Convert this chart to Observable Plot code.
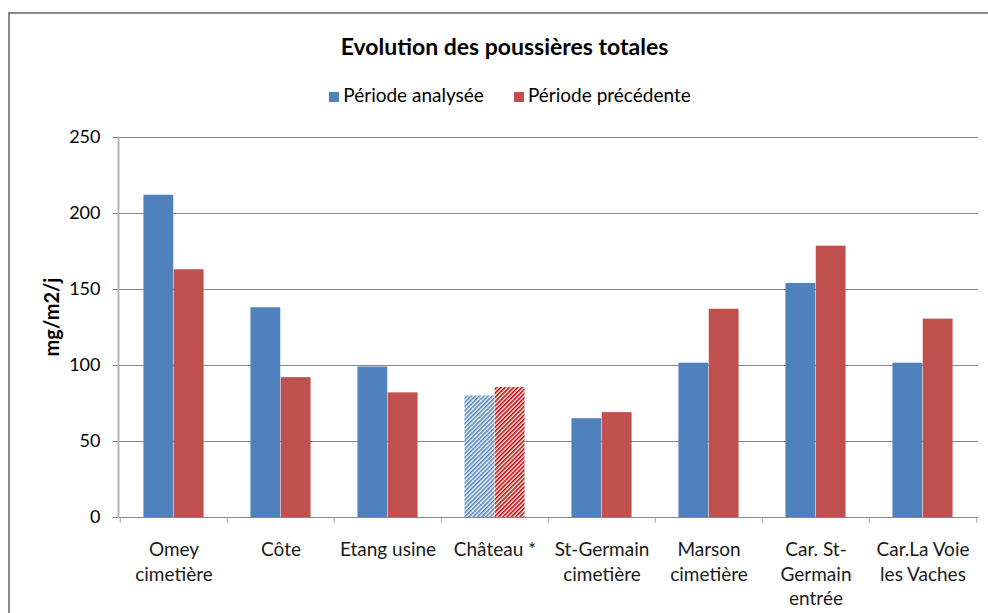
<!DOCTYPE html>
<html>
<head>
<meta charset="utf-8">
<script src="https://cdn.jsdelivr.net/npm/d3@7"></script>
<script src="https://cdn.jsdelivr.net/npm/@observablehq/plot@0.6"></script>
<style>
  html, body { margin: 0; padding: 0; background: #fff; }
  #page { position: relative; width: 988px; height: 613px; overflow: hidden; font-family: Lato, "Noto Sans", sans-serif; }
  #frame { position: absolute; left: 8px; top: 12px; right: -4px; bottom: -4px; border-left: 2px solid #878787; border-top: 2px solid #878787; z-index: 5; pointer-events: none; }
  #title { position: absolute; left: 0; top: 32px; width: 1009px; text-align: center; font-weight: bold; font-size: 23px; line-height: 28px; color: #000; }
  #legend { position: absolute; left: 0; top: 83px; width: 1020px; display: flex; justify-content: center; align-items: baseline; font-size: 19px; line-height: 23px; color: #000; }
  .sw { display: inline-block; width: 10px; height: 10px; margin-right: 4px; }
  .item { display: inline-flex; align-items: baseline; }
  #chart { position: absolute; left: 0; top: 115px; }
  #ylabel { position: absolute; left: 51px; top: 317px; transform: translate(-50%, -50%) rotate(-90deg); font-weight: bold; font-size: 20px; white-space: nowrap; color: #000; }
</style>
</head>
<body>
<div id="page">
  <div id="frame"></div>
  <div id="title"></div>
  <div id="legend"></div>
  <div id="chart"></div>
  <div id="ylabel"></div>
</div>
<script>
// ---- data ----
const titleText = "Evolution des poussières totales";
const yLabel = "mg/m2/j";
const seriesNames = ["Période analysée", "Période précédente"];
const seriesColors = ["#4F81BD", "#C0504D"];
const hatchColors = ["#4F81BD", "#C00000"];
const categories = [
  "Omey\ncimetière",
  "Côte",
  "Etang usine",
  "Château *",
  "St-Germain\ncimetière",
  "Marson\ncimetière",
  "Car. St-\nGermain\nentrée",
  "Car.La Voie\nles Vaches"
];
const analysee   = [212, 138, 99, 80, 65, 101.5, 154, 101.5];
const precedente = [163, 92, 82, 85.5, 69, 137, 178.5, 130.5];
const hatchedSite = "Château *";
const yTicks = [0, 50, 100, 150, 200, 250];

// ---- text ----
document.getElementById("title").textContent = titleText;
document.getElementById("ylabel").textContent = yLabel;
const legend = document.getElementById("legend");
seriesNames.forEach((name, i) => {
  const item = document.createElement("span");
  item.className = "item";
  item.style.marginRight = i === 0 ? "30px" : "0";
  const sw = document.createElement("span");
  sw.className = "sw";
  sw.style.background = seriesColors[i];
  const t = document.createElement("span");
  t.textContent = name;
  item.appendChild(sw); item.appendChild(t);
  legend.appendChild(item);
});

// ---- table ----
const rows = categories.map((c, i) => ({site: c, a: analysee[i], p: precedente[i], hatched: c === hatchedSite}));
const plain = rows.filter(d => !d.hatched);
const hatched = rows.filter(d => d.hatched);

const W = 988, H = 498, ML = 118, MR = 10, MT = 22, MB = 96;
const step = (W - ML - MR) / categories.length;
const outer = step * 0.218, mid = step * 0.5;
const grey = "#868686";

const svg = Plot.plot({
  width: W, height: H,
  marginLeft: ML, marginRight: MR, marginTop: MT, marginBottom: MB,
  style: {fontFamily: "Lato, 'Noto Sans', sans-serif", background: "transparent", color: "#000"},
  x: {type: "band", domain: categories, padding: 0, axis: null},
  y: {domain: [0, 250], axis: null},
  marks: [
    Plot.ruleY(yTicks.filter(v => v > 0), {stroke: grey, strokeWidth: 1}),
    Plot.barY(plain, {x: "site", y: "a", fill: seriesColors[0], insetLeft: outer, insetRight: mid}),
    Plot.barY(plain, {x: "site", y: "p", fill: seriesColors[1], insetLeft: mid, insetRight: outer}),
    Plot.barY(hatched, {x: "site", y: "a", fill: "url(#hatch0)", insetLeft: outer, insetRight: mid}),
    Plot.barY(hatched, {x: "site", y: "p", fill: "url(#hatch1)", insetLeft: mid, insetRight: outer}),
    Plot.ruleY([0], {stroke: grey, strokeWidth: 1}),
    Plot.frame({anchor: "left", stroke: "#b5b5b5", strokeWidth: 2}),
    Plot.axisY({ticks: yTicks, tickSize: 5, tickPadding: 13, fontSize: 18, stroke: grey, fill: "#000", label: null}),
    Plot.axisX({tickSize: 6, tickFormat: () => "", dx: -step / 2, stroke: "#a6a6a6", label: null}),
    Plot.axisX({ticks: [categories[categories.length - 1]], tickSize: 6, tickFormat: () => "", dx: step / 2, stroke: "#a6a6a6", label: null}),
    Plot.axisX({tickSize: 0, tickPadding: 21.5, fontSize: 19, lineHeight: 1.29, fill: "#1a1a1a", label: null})
  ]
});

// hatch patterns
const ns = "http://www.w3.org/2000/svg";
const defs = document.createElementNS(ns, "defs");
hatchColors.forEach((c, i) => {
  const pat = document.createElementNS(ns, "pattern");
  pat.setAttribute("id", "hatch" + i);
  pat.setAttribute("patternUnits", "userSpaceOnUse");
  pat.setAttribute("width", "3");
  pat.setAttribute("height", "3");
  pat.setAttribute("patternTransform", "rotate(45)");
  const bg = document.createElementNS(ns, "rect");
  bg.setAttribute("width", "3"); bg.setAttribute("height", "3"); bg.setAttribute("fill", "#fff");
  const r = document.createElementNS(ns, "rect");
  r.setAttribute("width", "1.6"); r.setAttribute("height", "3"); r.setAttribute("fill", c);
  pat.appendChild(bg); pat.appendChild(r);
  defs.appendChild(pat);
});
svg.insertBefore(defs, svg.firstChild);
document.getElementById("chart").appendChild(svg);
</script>
</body>
</html>
